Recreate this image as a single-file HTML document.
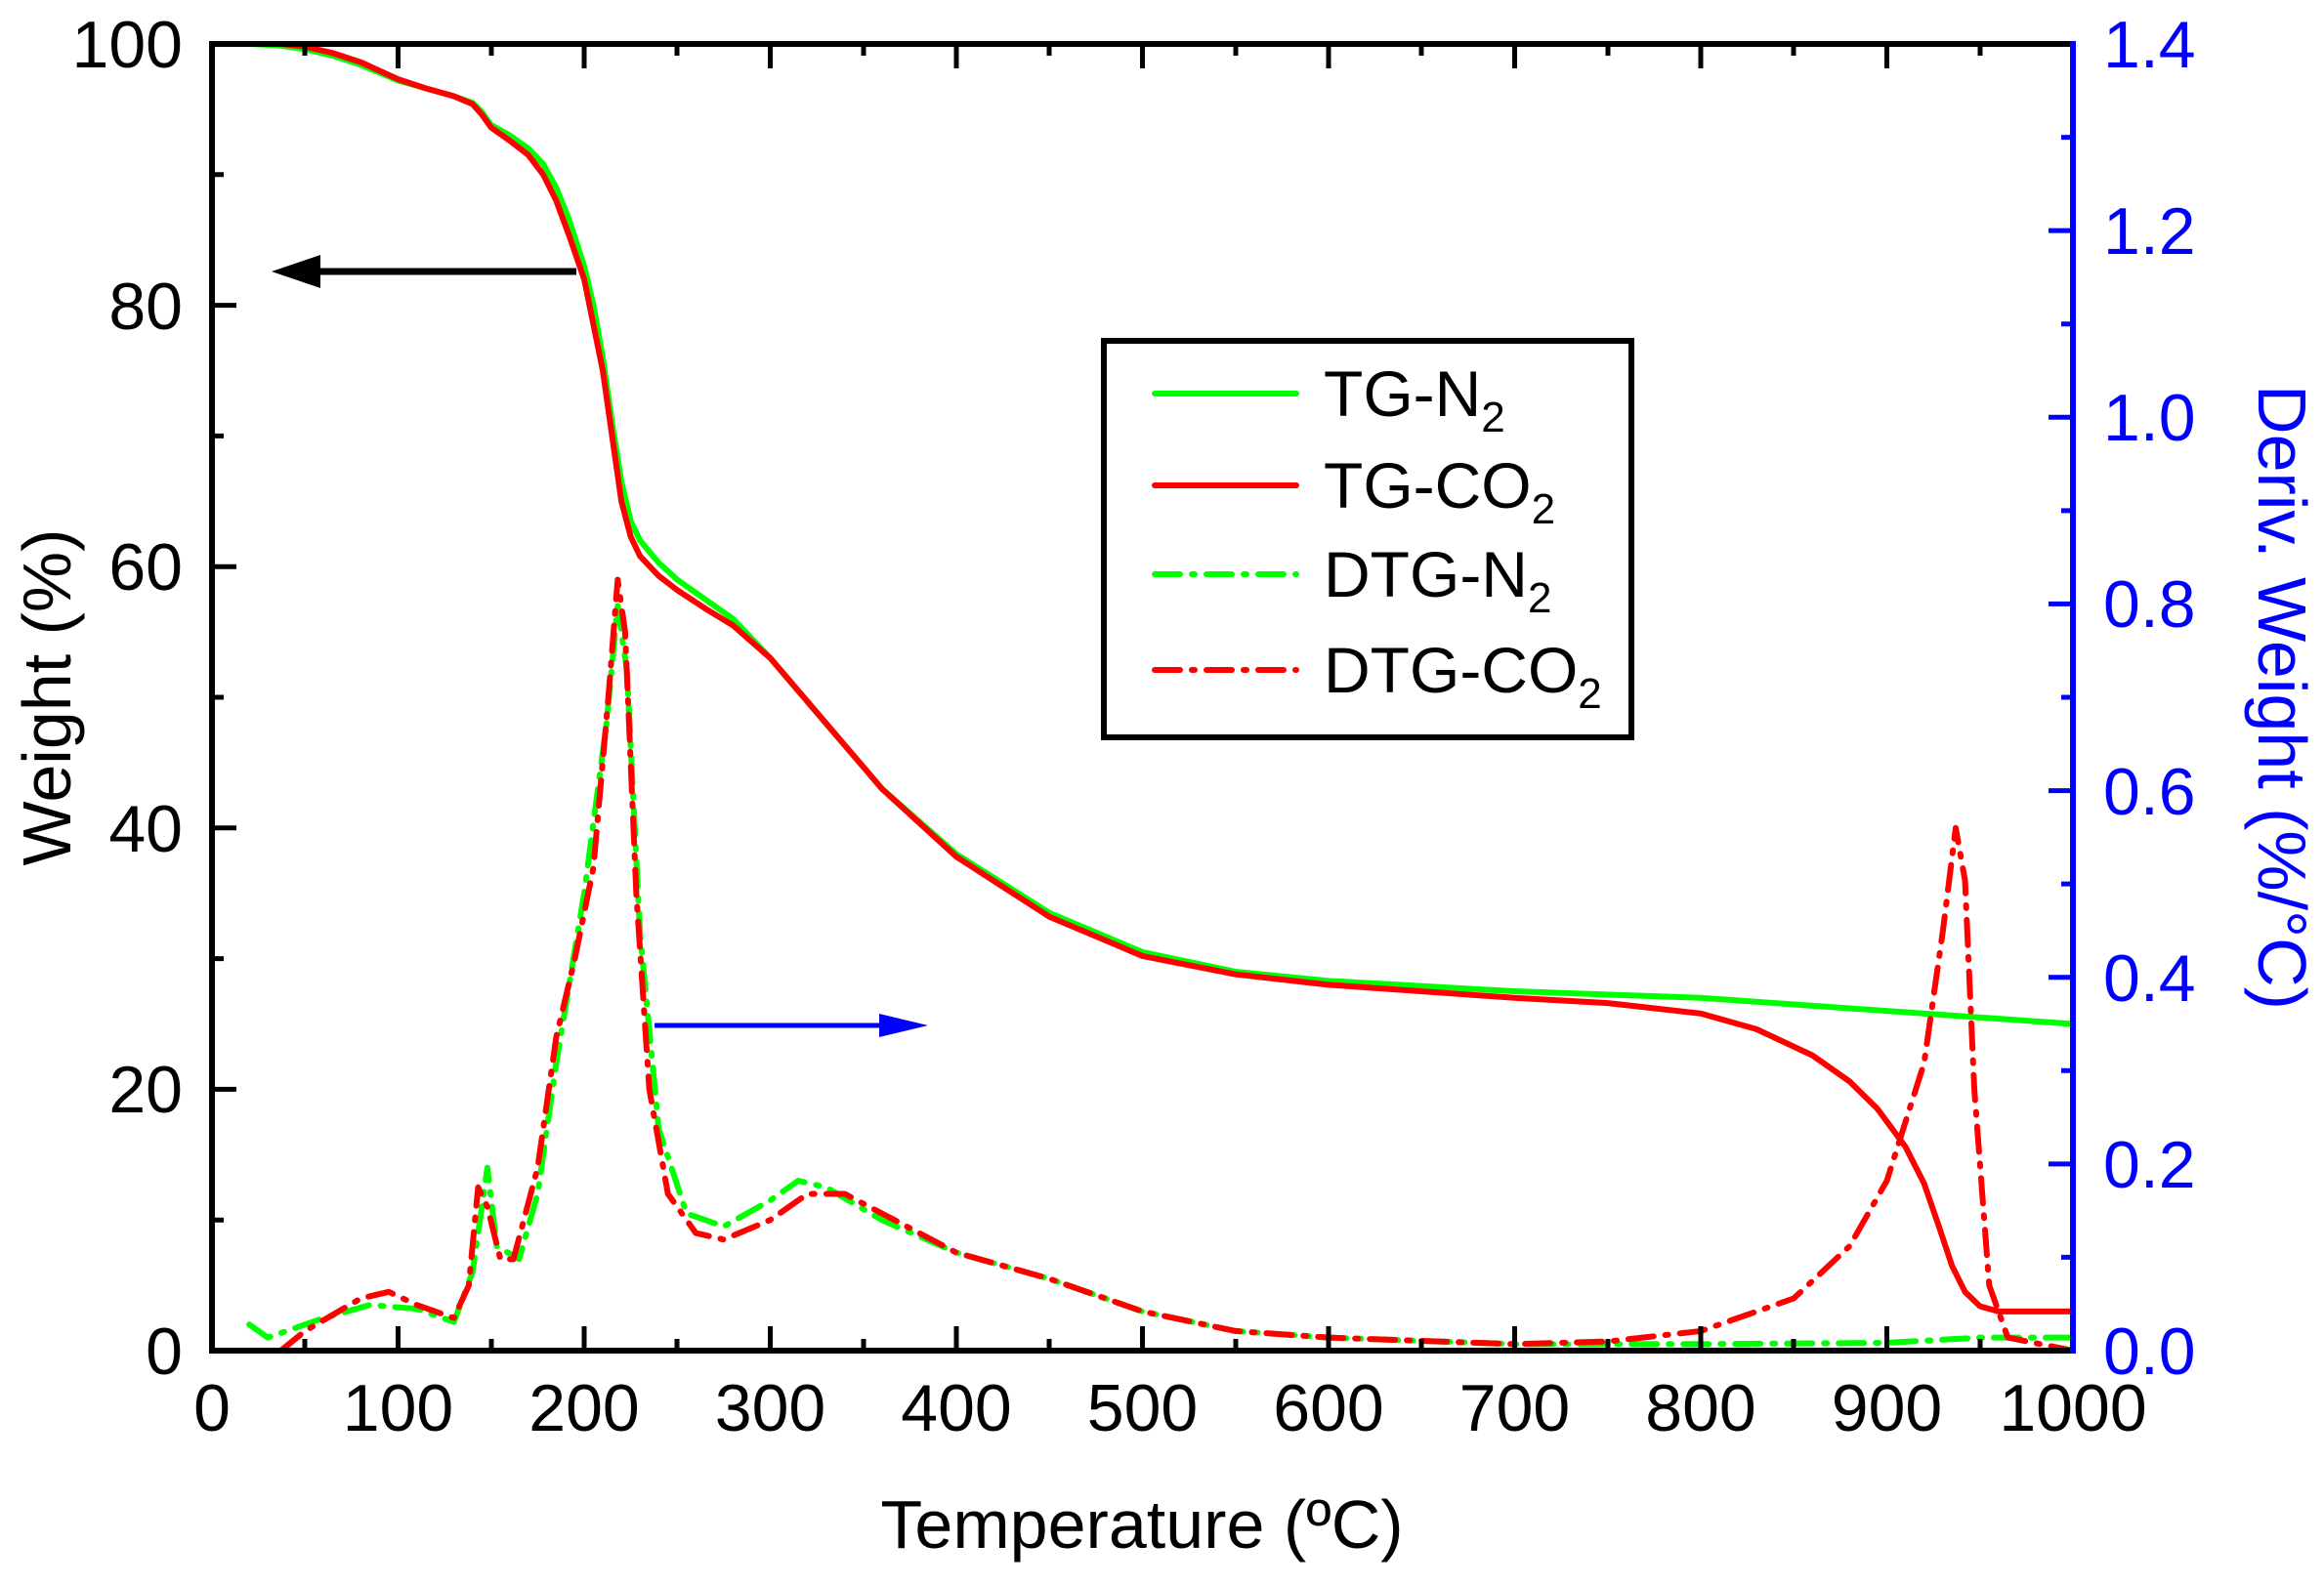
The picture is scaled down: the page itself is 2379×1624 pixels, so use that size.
<!DOCTYPE html>
<html><head><meta charset="utf-8"><style>
html,body{margin:0;padding:0;background:#fff}
svg text{font-family:"Liberation Sans",Arial,sans-serif}
</style></head><body>
<svg width="2379" height="1619" viewBox="0 0 2379 1619" xmlns="http://www.w3.org/2000/svg">
<rect width="2379" height="1619" fill="#fff"/>
<g transform="translate(217,1383) scale(1.905,-13.38)" fill="none" stroke-linejoin="round" stroke-linecap="round">
 <polyline vector-effect="non-scaling-stroke" stroke="#00ff00" stroke-width="6" points="20,100 35,99.9 50,99.6 65,99.1 80,98.4 100,97.2 115,96.6 130,96 140,95.5 145,94.8 150,93.8 160,93 170,92 178,90.8 185,89 192,86.5 200,83 205,80 210,76 215,71 220,66.5 225,63.5 230,62 240,60.3 250,59 265,57.5 280,56 300,53 330,48 360,43 400,38 450,33.5 500,30.5 550,29 600,28.3 700,27.5 800,27 900,26 1000,25"/>
 <polyline vector-effect="non-scaling-stroke" stroke="#ff0000" stroke-width="6" points="37,100 50,99.8 65,99.3 80,98.6 100,97.3 115,96.6 130,96 140,95.4 145,94.6 150,93.6 160,92.6 170,91.5 178,90 185,88 192,85.3 200,82 205,78.5 210,75 215,70 220,65 225,62.3 230,60.8 240,59.3 250,58.2 265,56.8 280,55.5 300,53 330,48 360,43 400,37.8 450,33.2 500,30.2 550,28.8 600,28 700,27 750,26.6 800,25.8 830,24.6 860,22.6 880,20.6 895,18.5 910,15.6 920,12.8 928,9.5 935,6.5 942,4.5 950,3.4 960,3 1000,3"/>
 <polyline vector-effect="non-scaling-stroke" stroke="#00ff00" stroke-width="6" stroke-dasharray="26 12 3 12" points="20,2 30,1 40,1.5 60,2.5 85,3.5 110,3.2 130,2.2 140,6 148,14 153,8 165,7 175,12 185,22 200,35 212,48 218,57 223,52 230,32 240,17 255,10.5 275,9.5 300,11.5 315,13 330,12.5 360,10 400,7.5 450,5.5 500,3 550,1.5 600,1 700,0.5 800,0.5 900,0.6 950,1 1000,1"/>
 <polyline vector-effect="non-scaling-stroke" stroke="#ff0000" stroke-width="6" stroke-dasharray="26 12 3 12" points="37,0 50,1.5 80,4 95,4.5 110,3.5 130,2.5 138,5 143,12.5 148,11 155,7 162,7 175,14 185,24 195,30 205,37 213,50 218,59 222,55 228,35 235,20 245,12 260,9 275,8.5 300,10 320,12 340,12 360,10.5 400,7.5 450,5.5 500,3 550,1.5 600,1 700,0.5 750,0.7 800,1.5 850,4 880,8 900,13 920,22 930,32 937,40 942,36 947,20 955,5 965,1 1000,0"/>
</g>
<line x1="590" y1="278" x2="320" y2="278" stroke="#000" stroke-width="7"/>
<polygon points="278,278 328,261 328,295" fill="#000"/>
<line x1="670" y1="1050" x2="910" y2="1050" stroke="#0000ff" stroke-width="5"/>
<polygon points="950,1050 900,1038 900,1062" fill="#0000ff"/>
<g stroke="#000" stroke-width="6" fill="none">
 <line x1="217" y1="45" x2="2122" y2="45"/>
 <line x1="217" y1="42" x2="217" y2="1386"/>
 <line x1="214" y1="1383" x2="2122" y2="1383"/>
</g>
<line x1="2122" y1="42" x2="2122" y2="1386" stroke="#0000ff" stroke-width="6"/>
<g stroke="#000" stroke-width="5">
 <path d="M407.5 1383v-25M598 1383v-25M788.5 1383v-25M979 1383v-25M1169.5 1383v-25M1360 1383v-25M1550.5 1383v-25M1741 1383v-25M1931.5 1383v-25
 M312 1383v-12M503 1383v-12M693 1383v-12M884 1383v-12M1074 1383v-12M1265 1383v-12M1455 1383v-12M1646 1383v-12M1836 1383v-12M2027 1383v-12
 M407.5 45v25M598 45v25M788.5 45v25M979 45v25M1169.5 45v25M1360 45v25M1550.5 45v25M1741 45v25M1931.5 45v25
 M312 45v12M503 45v12M693 45v12M884 45v12M1074 45v12M1265 45v12M1455 45v12M1646 45v12M1836 45v12M2027 45v12
 M217 312.6h25M217 580.2h25M217 847.8h25M217 1115.4h25
 M217 178.8h12M217 446.4h12M217 714h12M217 981.6h12M217 1249.2h12"/>
</g>
<g stroke="#0000ff" stroke-width="5">
 <path d="M2122 236.1h-25M2122 427.3h-25M2122 618.4h-25M2122 809.6h-25M2122 1000.7h-25M2122 1191.9h-25
 M2122 140.6h-12M2122 331.7h-12M2122 522.9h-12M2122 714h-12M2122 905.1h-12M2122 1096.3h-12M2122 1287.4h-12"/>
</g>
<g font-size="68" text-anchor="end" fill="#000">
 <text x="187" y="69">100</text>
 <text x="187" y="337">80</text>
 <text x="187" y="604">60</text>
 <text x="187" y="872">40</text>
 <text x="187" y="1139">20</text>
 <text x="187" y="1407">0</text>
</g>
<g font-size="68" text-anchor="start" fill="#0000ff">
 <text x="2153" y="69">1.4</text>
 <text x="2153" y="260">1.2</text>
 <text x="2153" y="451">1.0</text>
 <text x="2153" y="642">0.8</text>
 <text x="2153" y="834">0.6</text>
 <text x="2153" y="1025">0.4</text>
 <text x="2153" y="1216">0.2</text>
 <text x="2153" y="1407">0.0</text>
</g>
<g font-size="68" text-anchor="middle" fill="#000">
 <text x="217" y="1465">0</text>
 <text x="407.5" y="1465">100</text>
 <text x="598" y="1465">200</text>
 <text x="788.5" y="1465">300</text>
 <text x="979" y="1465">400</text>
 <text x="1169.5" y="1465">500</text>
 <text x="1360" y="1465">600</text>
 <text x="1550.5" y="1465">700</text>
 <text x="1741" y="1465">800</text>
 <text x="1931.5" y="1465">900</text>
 <text x="2122" y="1465">1000</text>
</g>
<text x="1169" y="1585" font-size="70" text-anchor="middle">Temperature (ºC)</text>
<text transform="translate(72,714) rotate(-90)" font-size="70" text-anchor="middle">Weight (%)</text>
<text transform="translate(2312,714) rotate(90)" font-size="70" text-anchor="middle" fill="#0000ff">Deriv. Weight (%/°C)</text>
<rect x="1130" y="349" width="540" height="406" fill="#fff" stroke="#000" stroke-width="6"/>
<g stroke-width="6" stroke-linecap="round">
 <line x1="1182" y1="403" x2="1327" y2="403" stroke="#00ff00"/>
 <line x1="1182" y1="497" x2="1327" y2="497" stroke="#ff0000"/>
 <line x1="1182" y1="588" x2="1327" y2="588" stroke="#00ff00" stroke-dasharray="26 12 3 12"/>
 <line x1="1182" y1="686" x2="1327" y2="686" stroke="#ff0000" stroke-dasharray="26 12 3 12"/>
</g>
<g font-size="66" fill="#000">
 <text x="1355" y="426">TG-N<tspan font-size="44" dy="16">2</tspan></text>
 <text x="1355" y="520">TG-CO<tspan font-size="44" dy="16">2</tspan></text>
 <text x="1355" y="611">DTG-N<tspan font-size="44" dy="16">2</tspan></text>
 <text x="1355" y="709">DTG-CO<tspan font-size="44" dy="16">2</tspan></text>
</g>
</svg>
</body></html>
